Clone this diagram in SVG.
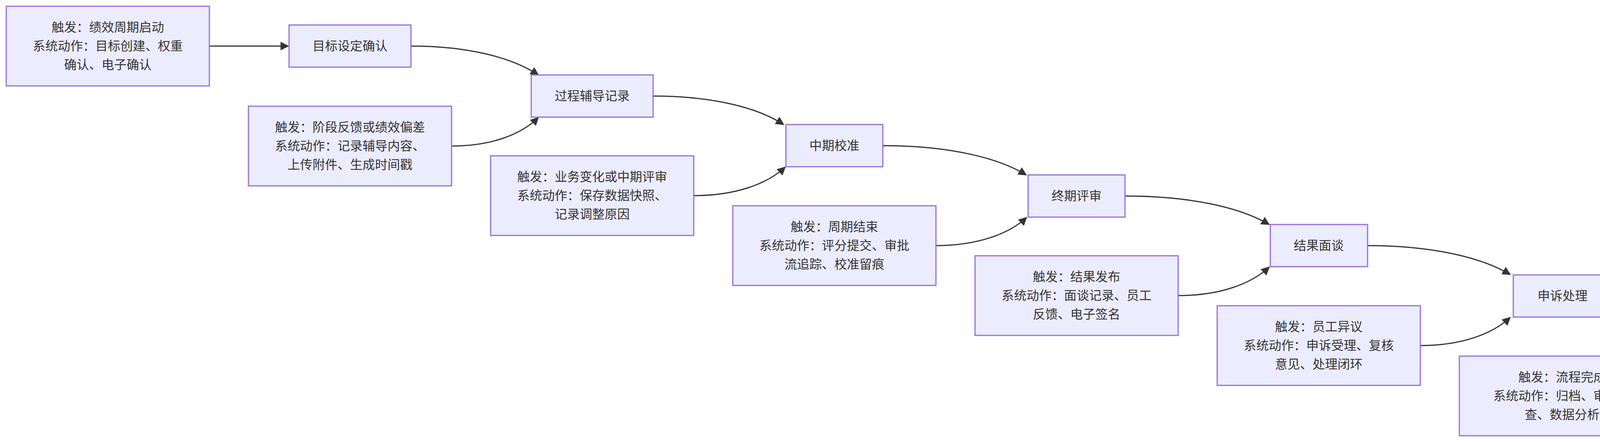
<svg xmlns="http://www.w3.org/2000/svg" width="4716" height="1132" viewBox="0 0 4716 1132">
<style>
.n rect{fill:#ECECFF;stroke:#9370DB;stroke-width:3}
text{font-family:"Liberation Sans","Noto Sans CJK SC",sans-serif;font-size:32px;fill:#333;text-anchor:middle;dominant-baseline:central}
.e path{fill:none;stroke:#333;stroke-width:3;marker-end:url(#a)}
</style>
<defs><marker id="a" markerUnits="userSpaceOnUse" markerWidth="22" markerHeight="22" viewBox="0 0 10 10" refX="9" refY="5" orient="auto"><path d="M0,0L10,5L0,10z" fill="#333"/></marker></defs>
<rect width="4716" height="1132" fill="#fff"/>
<g class="e">
<path d="M536,118L738,118"/>
<path d="M1053,118C1199,118 1313,148 1378,192"/>
<path d="M1156,374C1256,374 1334,345 1378,301"/>
<path d="M1672,246C1822,246 1939,275 2006,319"/>
<path d="M1776,501C1881,501 1963,472 2010,428"/>
<path d="M2260,373C2425,373 2554,403 2627,448"/>
<path d="M2396,629C2500,629 2582,600 2628,557"/>
<path d="M2880,502C3046,502 3175,531 3249,575"/>
<path d="M3016,757C3121,757 3202,728 3249,684"/>
<path d="M3501,629C3665,629 3793,659 3866,703"/>
<path d="M3636,885C3740,885 3820,856 3866,813"/>
<path d="M4126,758C4264,758 4372,787 4433,831"/>
<path d="M4262,1014C4339,1014 4399,985 4433,942"/>
</g>
<g id="M1" class="n"><rect x="740" y="64" width="312" height="108"/><text x="896" y="118">目标设定确认</text></g>
<g id="M2" class="n"><rect x="1360" y="192" width="312" height="108"/><text x="1516" y="246">过程辅导记录</text></g>
<g id="M3" class="n"><rect x="2012" y="319" width="248" height="108"/><text x="2136" y="373">中期校准</text></g>
<g id="M4" class="n"><rect x="2632" y="448" width="248" height="108"/><text x="2756" y="502">终期评审</text></g>
<g id="M5" class="n"><rect x="3252" y="575" width="249" height="108"/><text x="3376" y="629">结果面谈</text></g>
<g id="M6" class="n"><rect x="3874" y="704" width="251" height="108"/><text x="4000" y="758">申诉处理</text></g>
<g id="M7" class="n"><rect x="4363" y="832" width="348" height="109"/><text x="4537" y="887">结果归档与复盘</text></g>
<g id="T1" class="n"><rect x="16" y="16" width="520" height="204"/><text x="276" y="70">触发：绩效周期启动</text><text x="276" y="118">系统动作：目标创建、权重</text><text x="276" y="166">确认、电子确认</text></g>
<g id="T2" class="n"><rect x="636" y="272" width="520" height="204"/><text x="896" y="326">触发：阶段反馈或绩效偏差</text><text x="896" y="374">系统动作：记录辅导内容、</text><text x="896" y="422">上传附件、生成时间戳</text></g>
<g id="T3" class="n"><rect x="1256" y="399" width="520" height="204"/><text x="1516" y="453">触发：业务变化或中期评审</text><text x="1516" y="501">系统动作：保存数据快照、</text><text x="1516" y="549">记录调整原因</text></g>
<g id="T4" class="n"><rect x="1876" y="527" width="520" height="204"/><text x="2136" y="581">触发：周期结束</text><text x="2136" y="629">系统动作：评分提交、审批</text><text x="2136" y="677">流追踪、校准留痕</text></g>
<g id="T5" class="n"><rect x="2496" y="655" width="520" height="204"/><text x="2756" y="709">触发：结果发布</text><text x="2756" y="757">系统动作：面谈记录、员工</text><text x="2756" y="805">反馈、电子签名</text></g>
<g id="T6" class="n"><rect x="3116" y="783" width="520" height="204"/><text x="3376" y="837">触发：员工异议</text><text x="3376" y="885">系统动作：申诉受理、复核</text><text x="3376" y="933">意见、处理闭环</text></g>
<g id="T7" class="n"><rect x="3736" y="912" width="526" height="204"/><text x="3999" y="966">触发：流程完成</text><text x="3999" y="1014">系统动作：归档、审计抽</text><text x="3999" y="1062">查、数据分析</text></g>
</svg>
